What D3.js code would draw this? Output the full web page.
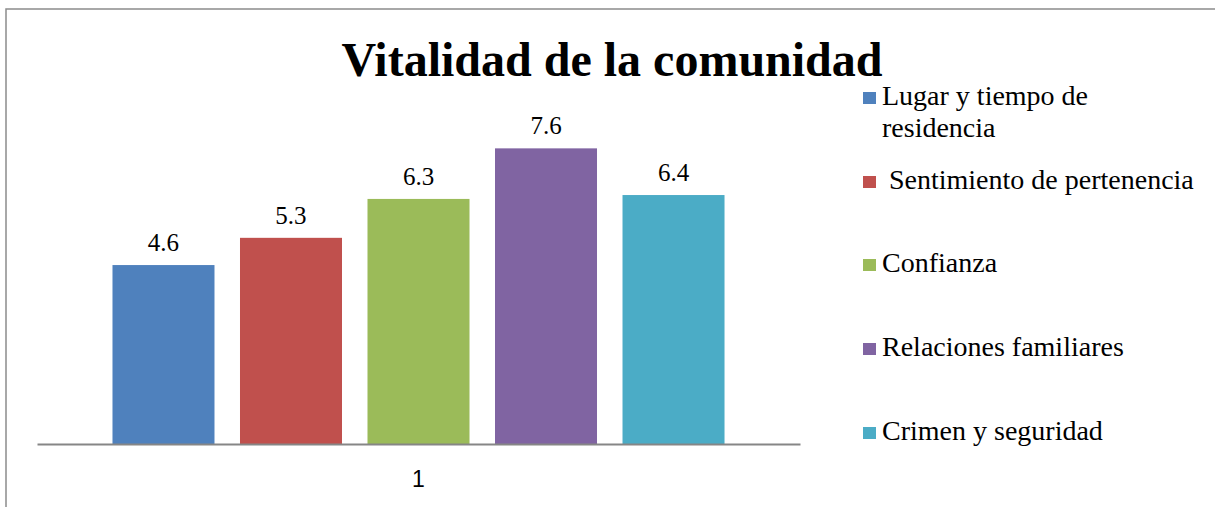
<!DOCTYPE html>
<html><head><meta charset="utf-8">
<script src="https://cdn.jsdelivr.net/npm/d3@7"></script>
<style>body{margin:0;background:#fff}svg{display:block}</style>
</head><body>
<script>
const categories = ["1"];
const seriesNames = ["Lugar y tiempo de residencia", "Sentimiento de pertenencia", "Confianza", "Relaciones familiares", "Crimen y seguridad"];
const legendLines = [["Lugar y tiempo de", "residencia"], [" Sentimiento de pertenencia"], ["Confianza"], ["Relaciones familiares"], ["Crimen y seguridad"]];
const values = [4.6, 5.3, 6.3, 7.6, 6.4];
const colors = ["#4F81BD", "#C0504D", "#9BBB59", "#8064A2", "#4BACC6"];
const title = "Vitalidad de la comunidad";

const W = 1215, H = 507;
const svg = d3.select("body").append("svg").attr("width", W).attr("height", H);

svg.append("rect").attr("x", 6).attr("y", 9).attr("width", 1300).attr("height", 700)
  .attr("fill", "none").attr("stroke", "#8c8c8c").attr("stroke-width", 1.5);

svg.append("text").attr("x", 612).attr("y", 76).attr("text-anchor", "middle")
  .attr("font-family", "Liberation Serif").attr("font-weight", "bold").attr("font-size", 48)
  .attr("fill", "#000").text(title);

const x0 = d3.scaleBand().domain(categories).range([37, 800]);
const x1 = d3.scaleBand().domain(seriesNames).range([0, x0.bandwidth()]).paddingInner(0.2).paddingOuter(0.592);
const y = d3.scaleLinear().domain([0, 10]).range([444, 55]);

const g = svg.append("g");
categories.forEach(c => {
  const gg = g.append("g").attr("transform", `translate(${x0(c)},0)`);
  gg.selectAll("rect").data(values).join("rect")
    .attr("x", (d, i) => x1(seriesNames[i]))
    .attr("y", d => y(d))
    .attr("width", x1.bandwidth())
    .attr("height", d => y(0) - y(d))
    .attr("fill", (d, i) => colors[i]);
  gg.selectAll("text").data(values).join("text")
    .attr("x", (d, i) => x1(seriesNames[i]) + x1.bandwidth() / 2)
    .attr("y", d => y(d) - 14)
    .attr("text-anchor", "middle")
    .attr("font-family", "Liberation Serif").attr("font-size", 25).attr("fill", "#000")
    .text(d => d.toFixed(1));
});

const axis = svg.append("g").attr("transform", `translate(0,${y(0)})`)
  .call(d3.axisBottom(x0).tickSize(0).tickPadding(27));
axis.select(".domain").attr("stroke", "#868686").attr("stroke-width", 2);
axis.selectAll("text").attr("font-family", "Liberation Sans").attr("font-size", 23).attr("fill", "#000");

const legendY = [105, 189, 272, 356, 440];
const lg = svg.append("g");
legendLines.forEach((lines, i) => {
  lg.append("rect").attr("x", 863).attr("y", legendY[i] - 13).attr("width", 13).attr("height", 12).attr("fill", colors[i]);
  const t = lg.append("text").attr("x", 882).attr("y", legendY[i])
    .attr("font-family", "Liberation Serif").attr("font-size", 28).attr("fill", "#000")
    .style("white-space", "pre");
  lines.forEach((l, j) => t.append("tspan").attr("x", 882).attr("dy", j === 0 ? 0 : 32).text(l));
});
</script>
</body></html>
